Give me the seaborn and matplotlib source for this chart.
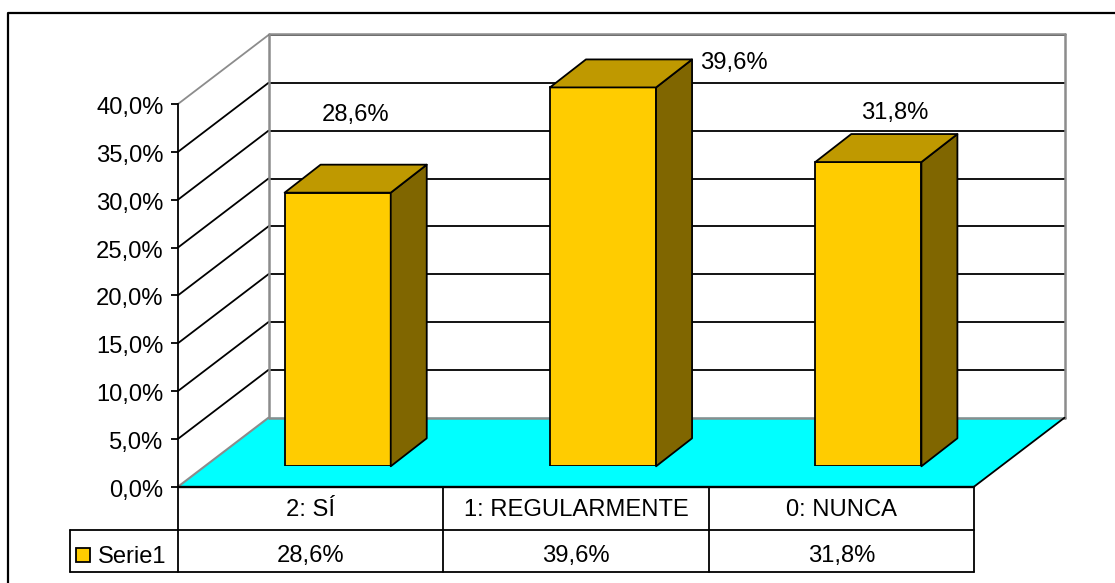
import matplotlib
matplotlib.use("Agg")
import matplotlib.pyplot as plt
from matplotlib.patches import Polygon
from matplotlib.transforms import ScaledTranslation
import seaborn as sns

categories = ["2: SÍ", "1: REGULARMENTE", "0: NUNCA"]
values = [28.6, 39.6, 31.8]
y_ticks = [0, 5, 10, 15, 20, 25, 30, 35, 40]
series_name = "Serie1"

FRONT, TOP, SIDE = "#FFCC00", "#BF9900", "#806600"
FLOOR, GRAY = "#00FFFF", "#8C8C8C"
W, H = 1115, 583
LW = 1.3


def fmt(v):
    return f"{v:.1f}".replace(".", ",") + "%"


def px_axes(fig, x0, x1, y_bottom, y_top, **kw):
    return fig.add_axes([x0 / W, 1 - y_bottom / H, (x1 - x0) / W, (y_bottom - y_top) / H], **kw)


sns.set_theme(style="white")
plt.rcParams["font.family"] = ["Liberation Sans", "DejaVu Sans"]
FS = 17.1

fig = plt.figure(figsize=(W / 100, H / 100), dpi=100, facecolor="white")

# pixel-space canvas
bg = fig.add_axes([0, 0, 1, 1], zorder=0)
bg.set_xlim(0, W)
bg.set_ylim(H, 0)
bg.axis("off")

# front plane holds the value axis
FX0, FX1, FY0, FY1 = 178, 974, 486.7, 104
DX, DY = 90.5, 69
front = px_axes(fig, FX0, FX1, FY0, FY1, zorder=1)
front.patch.set_alpha(0)
front.set_xlim(-0.5, 2.5)
front.set_ylim(0, 40)
front.set_yticks(y_ticks)
front.set_yticklabels([fmt(v) for v in y_ticks], fontsize=FS, color="black")
front.set_xticks([])
front.tick_params(axis="y", left=True, length=5, width=LW, color="black", pad=5.5)
down = ScaledTranslation(0, -1.5 / 100, fig.dpi_scale_trans)
for lab in front.get_yticklabels():
    lab.set_transform(lab.get_transform() + down)
for name, sp in front.spines.items():
    sp.set_visible(name == "left")
front.spines["left"].set_color("black")
front.spines["left"].set_linewidth(LW)

scale = (FY0 - FY1) / 40


def front_y(v):
    return FY0 - v * scale


# outer frame (left and top edges)
bg.plot([8, 8, W], [H, 13, 13], color="black", lw=1.6, solid_capstyle="butt", zorder=1)

# floor
fy = FY0
floor = [(FX0, fy), (FX1, fy), (FX1 + DX, fy - DY), (FX0 + DX, fy - DY)]
bg.add_patch(Polygon(floor, closed=True, facecolor=FLOOR, edgecolor="none", zorder=1))

# walls and gridlines
for v in y_ticks[1:]:
    y = front_y(v)
    c = GRAY if v == y_ticks[-1] else "black"
    bg.plot([FX0, FX0 + DX], [y, y - DY], color=c, lw=LW, zorder=2)
    bg.plot([FX0 + DX, FX1 + DX], [y - DY, y - DY], color="black", lw=LW, zorder=2)
top_y = front_y(y_ticks[-1]) - DY
bg.plot([FX0 + DX, FX1 + DX], [top_y - 1, top_y - 1], color=GRAY, lw=1.8, zorder=3)
for x in (FX0 + DX, FX1 + DX):
    bg.plot([x, x], [top_y - 1, fy - DY], color=GRAY, lw=1.8, zorder=3)
bg.plot([FX0 + DX, FX1 + DX], [fy - DY, fy - DY], color=GRAY, lw=1.8, zorder=3)
bg.plot([FX0, FX0 + DX], [fy, fy - DY], color=GRAY, lw=1.5, zorder=3)
bg.plot([FX1, FX1 + DX], [fy, fy - DY], color="black", lw=LW, zorder=3)
bg.plot([FX0, FX1], [fy, fy], color="black", lw=1.7, zorder=4)

# bars: seaborn draws the front faces at mid depth
BX, BY = 27, 20.4
ax = px_axes(fig, FX0 + BX, FX1 + BX, FY0 - BY, FY1 - BY, zorder=2)
ax.patch.set_alpha(0)
sns.barplot(x=categories, y=values, color=FRONT, saturation=1, width=0.4,
            edgecolor="black", linewidth=LW, ax=ax, zorder=5)
ax.set_xlim(-0.5, 2.5)
ax.set_ylim(0, 40)
ax.axis("off")
fig.canvas.draw()

SX, SY = 36, 28
for bar in ax.patches:
    (x0, y0), (x1, y1) = ax.transData.transform([(bar.get_x(), 0),
                                                  (bar.get_x() + bar.get_width(), bar.get_height())])
    yb, yt = H - y0, H - y1
    side = [(x1, yb), (x1 + SX, yb - SY), (x1 + SX, yt - SY), (x1, yt)]
    top = [(x0, yt), (x1, yt), (x1 + SX, yt - SY), (x0 + SX, yt - SY)]
    for pts, col in ((side, SIDE), (top, TOP)):
        ax.add_patch(Polygon(pts, closed=True, facecolor=col, edgecolor="black", lw=LW,
                             joinstyle="round", transform=bg.transData, zorder=6, clip_on=False))

# data labels
label_pos = [(356, 114.5), (733.5, 62.5), (894.5, 113.5)]
for v, (x, y) in zip(values, label_pos):
    bg.text(x, y, fmt(v), ha="center", va="center", fontsize=FS, color="black", zorder=4)

# data table
ROW1, ROW2 = 530, 572
LEG = 70
bg.plot([LEG, FX1], [ROW1, ROW1], color="black", lw=LW, zorder=4)
bg.plot([LEG, FX1], [ROW2, ROW2], color="black", lw=LW, zorder=4)
bg.plot([LEG, LEG], [ROW1, ROW2], color="black", lw=LW, zorder=4)
cell = (FX1 - FX0) / len(categories)
for i in range(len(categories) + 1):
    x = FX0 + i * cell
    bg.plot([x, x], [fy, ROW2], color="black", lw=LW, zorder=4)
for i, (c, v) in enumerate(zip(categories, values)):
    x = FX0 + (i + 0.5) * cell
    bg.text(x, 510.5, c, ha="center", va="center", fontsize=FS, color="black", zorder=4)
    bg.text(x, 556, fmt(v), ha="center", va="center", fontsize=FS, color="black", zorder=4)
bg.add_patch(Polygon([(76, 548), (90, 548), (90, 562), (76, 562)], closed=True,
                     facecolor=FRONT, edgecolor="black", lw=LW, zorder=4))
bg.text(98, 557, series_name, ha="left", va="center", fontsize=FS, color="black", zorder=4)

fig.savefig("out.png", dpi=100, facecolor="white")
